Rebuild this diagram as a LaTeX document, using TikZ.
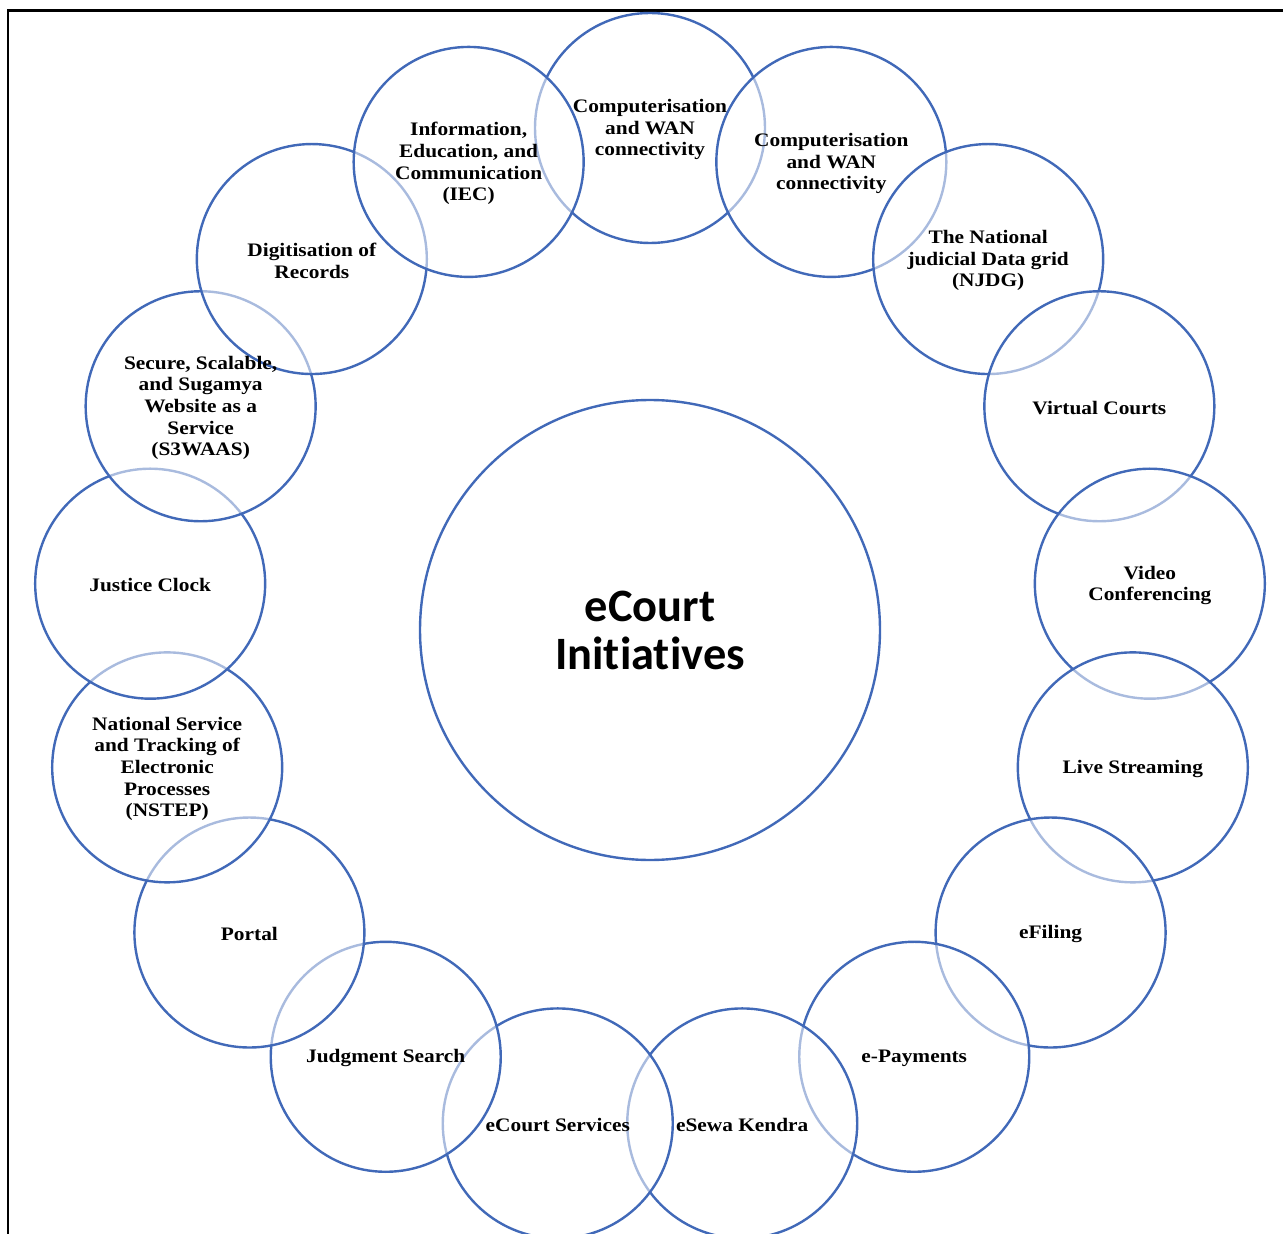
\documentclass[tikz,border=0pt]{standalone}
\usepackage{fontspec}
\setmainfont{Liberation Serif}[FakeStretch=1.12]
\newfontfamily\hubfont{Carlito}[Ligatures=NoCommon]
\usetikzlibrary{calc}
\definecolor{ringblue}{HTML}{4169B8}
\tikzset{
  ring/.style={circle, draw=ringblue, line width=1.8pt, fill=white, fill opacity=0.55, draw opacity=1, minimum size=172.5pt, inner sep=0pt},
  hub/.style={circle, draw=ringblue, line width=1.8pt, minimum size=345pt, inner sep=0pt},
  hubtext/.style={align=center, inner sep=0pt, font=\hubfont\bfseries\fontsize{34.8pt}{36pt}\selectfont},
  lbl/.style={align=center, font=\bfseries\fontsize{14.3pt}{16.2pt}\selectfont, text=black, inner sep=0pt, yshift=-1.2pt},
  frameline/.style={line width=1.7pt, black, line join=miter}
}
\begin{document}
\begin{tikzpicture}[x=0.75pt, y=-0.75pt]
\useasboundingbox (0,0) rectangle (1283,1234);
\coordinate (fa) at (8,1240);
\coordinate (fb) at (8,10.5);
\coordinate (fc) at (1290,10.5);
\draw[frameline] (fa) -- (fb) -- (fc);
\coordinate (o) at (650,630);
\node[hub] (hubc) at (o) {};
\node[hubtext] (hubt) at (o) {eCourt\\Initiatives};
\foreach \k in {0,...,16}{
  \node[ring] (c\k) at ($(o)+({-90+360/17*\k}:502)$) {};
}
\node[lbl] (t0) at (c0) {Computerisation\\and WAN\\connectivity};
\node[lbl] (t1) at (c1) {Computerisation\\and WAN\\connectivity};
\node[lbl] (t2) at (c2) {The National\\judicial Data grid\\(NJDG)};
\node[lbl] (t3) at (c3) {Virtual Courts};
\node[lbl] (t4) at (c4) {Video\\Conferencing};
\node[lbl] (t5) at (c5) {Live Streaming};
\node[lbl] (t6) at (c6) {eFiling};
\node[lbl] (t7) at (c7) {e-Payments};
\node[lbl] (t8) at (c8) {eSewa Kendra};
\node[lbl] (t9) at (c9) {eCourt Services};
\node[lbl] (t10) at (c10) {Judgment Search};
\node[lbl] (t11) at (c11) {Portal};
\node[lbl] (t12) at (c12) {National Service\\and Tracking of\\Electronic\\Processes\\(NSTEP)};
\node[lbl] (t13) at (c13) {Justice Clock};
\node[lbl] (t14) at (c14) {Secure, Scalable,\\and Sugamya\\Website as a\\Service\\(S3WAAS)};
\node[lbl] (t15) at (c15) {Digitisation of\\Records};
\node[lbl] (t16) at (c16) {Information,\\Education, and\\Communication\\(IEC)};
\end{tikzpicture}
\end{document}
